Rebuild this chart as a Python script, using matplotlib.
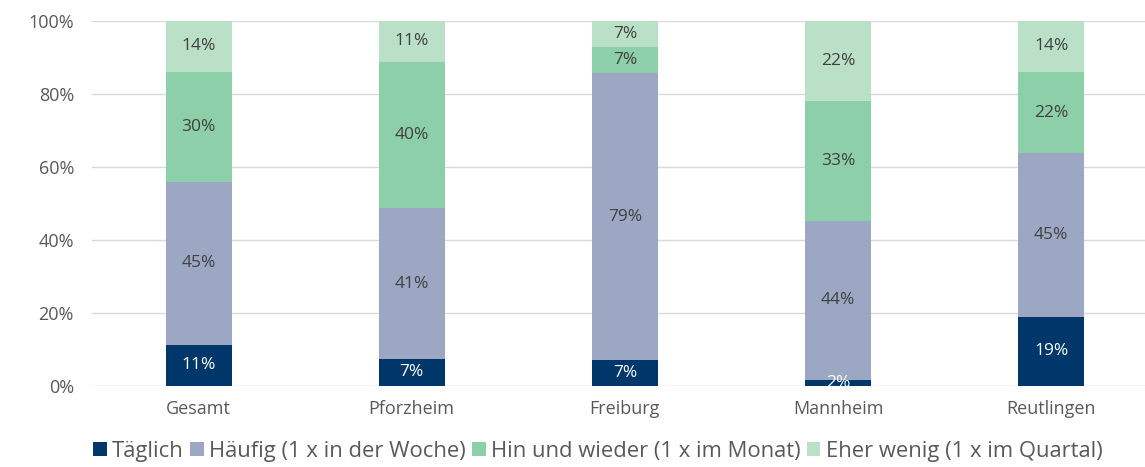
import matplotlib
matplotlib.use("Agg")
import matplotlib.pyplot as plt
from matplotlib.patches import Patch
import numpy as np

categories = ["Gesamt", "Pforzheim", "Freiburg", "Mannheim", "Reutlingen"]
series_names = ["Täglich", "Häufig (1 x in der Woche)", "Hin und wieder (1 x im Monat)", "Eher wenig (1 x im Quartal)"]
taeglich = [11.2, 7.3, 7.0, 1.6, 18.9]
haeufig = [44.7, 41.4, 78.6, 43.5, 44.8]
hin_und_wieder = [30.0, 40.1, 7.3, 33.0, 22.2]
eher_wenig = [14.1, 11.2, 7.1, 21.9, 14.1]
y_ticks = [0, 20, 40, 60, 80, 100]

colors = ["#00376a", "#9ba7c3", "#8dcfa8", "#bae1c8"]
text_colors = ["white", "#404040", "#404040", "#404040"]

plt.rcParams['font.family'] = ['Open Sans', 'DejaVu Sans']

fig = plt.figure(figsize=(11.45, 4.67), dpi=100)
ax = fig.add_axes([92/1145, (467-385.7)/467, 1 - 92/1145, (385.7-20.7)/467])

x = np.arange(len(categories))
bottom = np.zeros(len(categories))
for vals, col, tcol in zip([taeglich, haeufig, hin_und_wieder, eher_wenig], colors, text_colors):
    vals = np.array(vals)
    ax.bar(x, vals, bottom=bottom, width=0.31, color=col, zorder=3)
    for xi, b, v in zip(x, bottom, vals):
        ax.text(xi, b + v / 2, f"{v:.0f}%", ha="center", va="center",
                color=tcol, fontsize=12.5, zorder=4)
    bottom += vals

ax.set_xlim(-0.5, 4.44)
ax.set_ylim(0, 100)
ax.set_yticks(y_ticks)
ax.set_yticklabels([f"{t}%" for t in y_ticks])
ax.set_xticks(x)
ax.set_xticklabels(categories)
ax.grid(axis="y", color="#d9d9d9", linewidth=1, zorder=0)
for s in ax.spines.values():
    s.set_visible(False)
ax.tick_params(axis="both", length=0, colors="#595959", labelsize=13)
ax.tick_params(axis="y", pad=13)
ax.tick_params(axis="x", pad=10)

handles = [Patch(facecolor=c, edgecolor="none") for c in colors]
fig.legend(handles, series_names, loc="center", bbox_to_anchor=(598/1145, 1 - 451/467),
           ncol=4, frameon=False, fontsize=15.8, handlelength=0.6, handleheight=0.6,
           handletextpad=0.25, columnspacing=0.3, labelcolor="#595959")

fig.savefig("out.png", dpi=100)
